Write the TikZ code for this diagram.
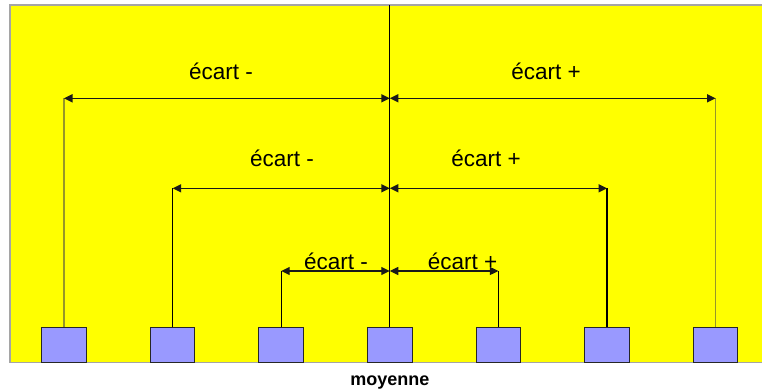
\documentclass[tikz,border=0pt]{standalone}
\usepackage{fontspec}
\setmainfont{Liberation Sans}
\usetikzlibrary{arrows.meta,positioning}
\definecolor{fond}{RGB}{255,255,0}
\definecolor{barre}{RGB}{153,153,255}
\definecolor{cadre}{RGB}{165,165,165}
\definecolor{pale}{RGB}{150,150,40}

\begin{document}
\begin{tikzpicture}
    [x=1pt,y=-1pt,
    bar/.style={rectangle,draw=black!85,line width=1pt,fill=barre,minimum width=44.5pt,minimum height=35pt,inner sep=0pt},
    ecart/.style={font=\fontsize{22.5}{26}\selectfont,anchor=base,inner sep=0pt},
    dim/.style={{Triangle[length=8.5pt,width=8pt]}-{Triangle[length=8.5pt,width=8pt]},line width=1.5pt,black!90},
    tige/.style={line width=1.1pt}]

    %\draw[help lines,step=50] (0,0) grid (762,390);
    \useasboundingbox (0,0) rectangle (762,390);
    \draw[fill=fond,draw=cadre,line width=1.2pt] (10,5) rectangle (775,362.5);

    \foreach \i in {1,...,7}
        \node[bar] (b\i) at ({389.8+(\i-4)*108.6},345.2) {};
    \node[below=12pt of b4,font=\bfseries\fontsize{18}{22}\selectfont,inner sep=0pt] (moy) {moyenne};

    \coordinate (haut) at (b4 |- 0,5);
    \coordinate (m1) at (b4 |- 0,98.3);
    \coordinate (m2) at (b4 |- 0,188.3);
    \coordinate (m3) at (b4 |- 0,271);
    \draw[line width=1pt] (haut) -- (b4.north);

    \draw[tige,pale] (b1.north) -- (b1 |- m1);
    \draw[tige,pale] (b7.north) -- (b7 |- m1);
    \draw[tige] (b2.north) -- (b2 |- m2);
    \draw[tige] (b6.north) -- (b6 |- m2);
    \draw[tige] (b3.north) -- (b3 |- m3);
    \draw[tige] (b5.north) -- (b5 |- m3);

    \draw[dim] (b1 |- m1) -- (m1);
    \draw[dim] (m1) -- (b7 |- m1);
    \draw[dim] (b2 |- m2) -- (m2);
    \draw[dim] (m2) -- (b6 |- m2);
    \draw[dim,line width=1.1pt] (b3 |- m3) -- (m3);
    \draw[dim,line width=1.1pt] (m3) -- (b5 |- m3);

    \node[ecart] (e1m) at (221,79.5) {écart -};
    \node[ecart] (e1p) at (546,79.5) {écart +};
    \node[ecart] (e2m) at (282,166.7) {écart -};
    \node[ecart] (e2p) at (486,166.7) {écart +};
    \node[ecart] (e3m) at (336,269) {écart -};
    \node[ecart] (e3p) at (462.5,269) {écart +};
\end{tikzpicture}
\end{document}
